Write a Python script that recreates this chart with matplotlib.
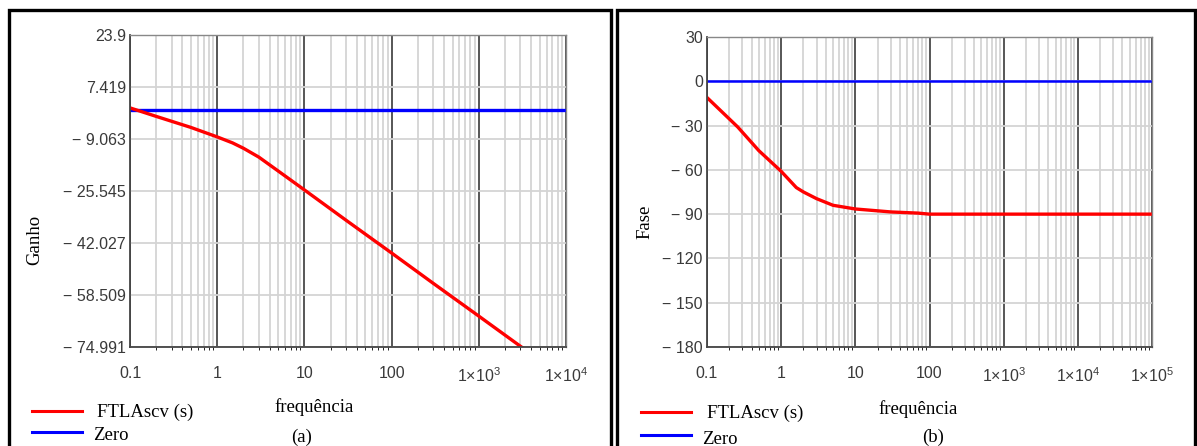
import numpy as np
import matplotlib
matplotlib.use("Agg")
import matplotlib.pyplot as plt
from matplotlib.lines import Line2D
from matplotlib.patches import Rectangle
from matplotlib.ticker import FixedLocator, NullFormatter

plt.rcParams['font.family'] = 'Liberation Sans'
plt.rcParams['mathtext.fontset'] = 'custom'
plt.rcParams['mathtext.rm'] = 'Liberation Sans'

# --- data ---
gain_freq = [0.1, 0.2, 0.5, 1, 1.5, 2, 3, 5, 10, 30, 100, 300, 1000, 5000]
gain_db = [0.8, -1.9, -5.4, -8.4, -10.3, -12.0, -14.8, -19.2, -25.2,
           -34.8, -45.2, -54.8, -65.2, -79.2]
gain_zero = [0, 0]
gain_zero_freq = [0.1, 1e4]
gain_ticks = [23.9, 7.419, -9.063, -25.545, -42.027, -58.509, -74.991]
gain_xticks = [0.1, 1, 10, 100, 1e3, 1e4]
gain_xlabels = ["0.1", "1", "10", "100", r"1×10$^{3}$", r"1×10$^{4}$"]

phase_freq = [0.1, 0.26, 0.5, 1, 1.6, 2, 3, 5, 10, 30, 70, 100, 1000, 1e5]
phase_deg = [-11, -31, -47, -61, -72, -75, -79.5, -84, -86.5, -88.5,
             -89.3, -90, -90, -90]
phase_zero = [0, 0]
phase_zero_freq = [0.1, 1e5]
phase_ticks = [30, 0, -30, -60, -90, -120, -150, -180]
phase_xticks = [0.1, 1, 10, 100, 1e3, 1e4, 1e5]
phase_xlabels = ["0.1", "1", "10", "100", r"1×10$^{3}$", r"1×10$^{4}$", r"1×10$^{5}$"]

W, H = 1197, 446
fig = plt.figure(figsize=(W / 100, H / 100), dpi=100)


def fx(px):
    return px / W


def fy(py):
    return 1 - py / H


def fmt(v):
    if v < 0:
        s = f"{-v:g}" if float(-v).is_integer() else f"{-v}"
        return "\u2212 " + s
    return f"{v:g}" if float(v).is_integer() else f"{v}"


def setup(ax, xt, xl, yt, xmax):
    ax.set_xscale('log')
    ax.set_xlim(0.1, xmax)
    ax.set_ylim(yt[-1], yt[0])
    ax.xaxis.set_major_locator(FixedLocator(xt))
    ax.set_xticklabels(xl)
    minors = [m * 10.0 ** e for e in range(-1, int(np.log10(xmax)))
              for m in range(2, 10)]
    ax.xaxis.set_minor_locator(FixedLocator(minors))
    ax.xaxis.set_minor_formatter(NullFormatter())
    ax.set_yticks(yt)
    ax.set_yticklabels([fmt(v) for v in yt])
    ax.grid(True, which='minor', axis='x', color='#d4d4d4', lw=1.3)
    ax.grid(True, which='major', axis='y', color='#d4d4d4', lw=1.3)
    ax.grid(True, which='major', axis='x', color='#3a3a3a', lw=1.2)
    ax.set_axisbelow(True)
    ax.tick_params(length=0, labelsize=11.5, labelcolor='#3a3a3a')
    ax.tick_params(axis='y', pad=3)
    ax.tick_params(axis='x', pad=14)
    for s in ['left', 'bottom']:
        ax.spines[s].set_color('#444444')
        ax.spines[s].set_linewidth(1.3)
    for s in ['top', 'right']:
        ax.spines[s].set_color('#888888')
        ax.spines[s].set_linewidth(1.0)


# panel (a)
ax1 = fig.add_axes([fx(130), fy(347), fx(566 - 130), (347 - 35) / H])
setup(ax1, gain_xticks, gain_xlabels, gain_ticks, 1e4)
ax1.plot(gain_zero_freq, gain_zero, color='#0000ff', lw=2.4)
ax1.plot(gain_freq, gain_db, color='#ff0000', lw=2.4)

# panel (b)
ax2 = fig.add_axes([fx(707), fy(347), fx(1152 - 707), (347 - 37) / H])
setup(ax2, phase_xticks, phase_xlabels, phase_ticks, 1e5)
ax2.plot(phase_zero_freq, phase_zero, color='#0000ff', lw=1.8)
ax2.plot(phase_freq, phase_deg, color='#ff0000', lw=2.4)

# frames around the panels
for x0, x1 in [(9, 611), (617, 1195)]:
    fig.patches.append(Rectangle((fx(x0), fy(470)), fx(x1 - x0), (470 - 10) / H,
                                 transform=fig.transFigure, fill=False,
                                 edgecolor='black', lw=2.4))

serif = 'Liberation Serif'
fs = 13.5
fig.text(fx(35), fy(240), "Ganho", rotation=90, ha='center', va='center',
         family=serif, fontsize=fs)
fig.text(fx(645), fy(222), "Fase", rotation=90, ha='center', va='center',
         family=serif, fontsize=fs)
fig.text(fx(314), fy(407), "frequência", ha='center', va='center', family=serif, fontsize=fs)
fig.text(fx(302), fy(437), "(a)", ha='center', va='center', family=serif, fontsize=fs)
fig.text(fx(918), fy(409), "frequência", ha='center', va='center', family=serif, fontsize=fs)
fig.text(fx(933), fy(437), "(b)", ha='center', va='center', family=serif, fontsize=fs)

# legends
for lx, tx1, tx2, y1, y2 in [(32, 97, 93, 411, 432), (641, 707, 702, 412, 435)]:
    fig.lines.append(Line2D([fx(lx), fx(lx + 50)], [fy(y1), fy(y1)],
                            transform=fig.transFigure, color='#ff0000', lw=2.2))
    fig.lines.append(Line2D([fx(lx), fx(lx + 50)], [fy(y2), fy(y2)],
                            transform=fig.transFigure, color='#0000ff', lw=2.2))
    fig.text(fx(tx1), fy(y1 + 1), "FTLAscv (s)", ha='left', va='center', family=serif, fontsize=fs)
    fig.text(fx(tx2), fy(y2 + 4), "Zero", ha='left', va='center', family=serif, fontsize=fs)

fig.savefig("out.png", dpi=100)
